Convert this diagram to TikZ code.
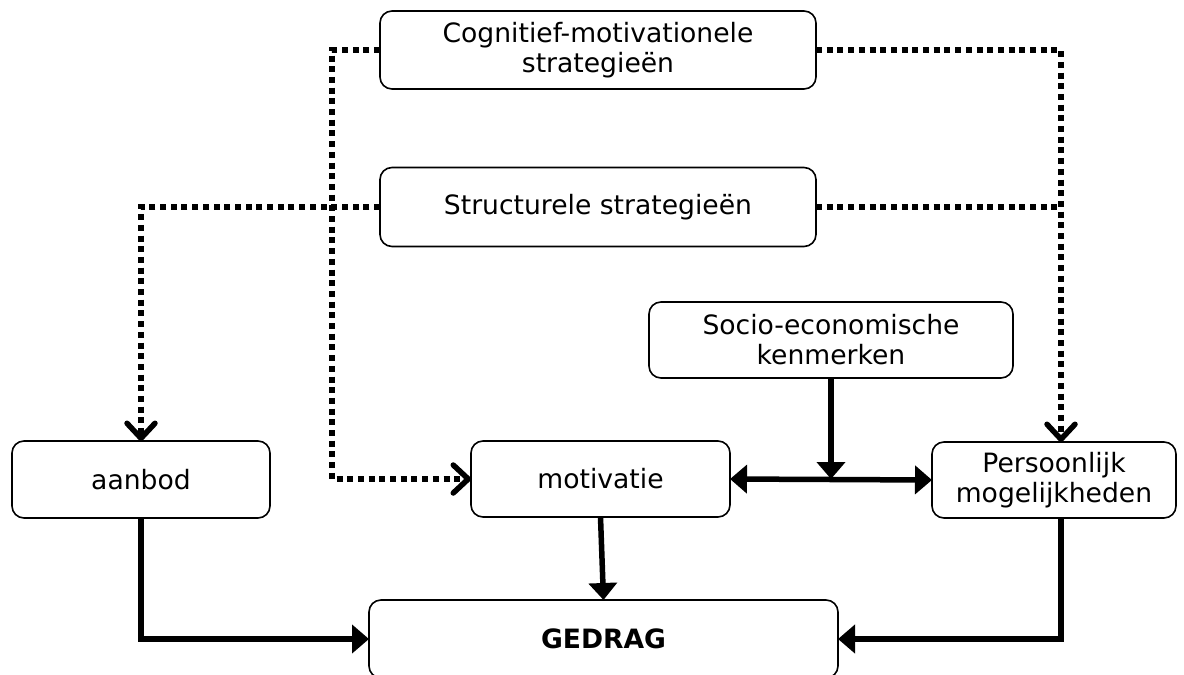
\documentclass[tikz,border=0pt]{standalone}
\usepackage{fontspec}
\setmainfont{DejaVu Sans}
\usetikzlibrary{arrows.meta}
\begin{document}
\begin{tikzpicture}[x=1pt,y=-1pt,
  box/.style={draw, rounded corners=12pt, line width=1.6pt, align=center,
    inner sep=0pt, outer sep=0pt, font=\fontsize{26.6}{30}\selectfont},
  solidlink/.style={line width=5.5pt, line join=miter,
    -{Triangle[length=17pt,width=28pt]}},
  dotlink/.style={line width=5.5pt, dash pattern=on 6pt off 4.7pt},
  dotarrow/.style={dotlink,
    -{Straight Barb[length=15pt,width=28pt,line cap=round,line join=round]}}]
\useasboundingbox (0,0) rectangle (1184,675);

% boxes
\node[box, minimum width=436pt, minimum height=78pt] (cog) at (598,50)
  {Cognitief-motivationele\\strategieën};
\node[box, minimum width=436pt, minimum height=79pt] (str) at (598,207)
  {Structurele strategieën};
\node[box, minimum width=364pt, minimum height=76pt] (soc) at (831,340)
  {Socio-economische\\kenmerken};
\node[box, minimum width=258pt, minimum height=77pt] (aan) at (141,479.5)
  {aanbod};
\node[box, minimum width=259pt, minimum height=76pt] (mot) at (600.5,479)
  {motivatie};
\node[box, minimum width=244pt, minimum height=76pt] (pers) at (1054,480)
  {Persoonlijk\\mogelijkheden};
\node[box, minimum width=469pt, minimum height=78pt] (ged) at (603.5,639)
  {\textbf{GEDRAG}};

% vertical tracks of the dotted and solid connectors
\coordinate (lt) at (332,0);
\coordinate (rt) at (1061,0);

% strategies (dotted)
\draw[dotarrow] (cog.west) -| (lt |- mot.west) -- (mot.west);
\draw[dotarrow] (cog.east) -| (rt |- pers.north);
\draw[dotarrow] (str.west) -| (aan.north);
\draw[dotlink] (str.east) -- (rt |- str.east);

% socio-economic characteristics
\draw[solidlink] (soc.south) -- (soc.south |- mot.east);
\draw[line width=5.5pt, {Triangle[length=17pt,width=28pt]}-{Triangle[length=17pt,width=28pt]}]
  (mot.east) -- (pers.west);

% into behaviour
\draw[solidlink] (mot.south) -- (ged.north);
\draw[solidlink] (aan.south) |- (ged.west);
\draw[solidlink] (rt |- pers.south) |- (ged.east);
\end{tikzpicture}
\end{document}
